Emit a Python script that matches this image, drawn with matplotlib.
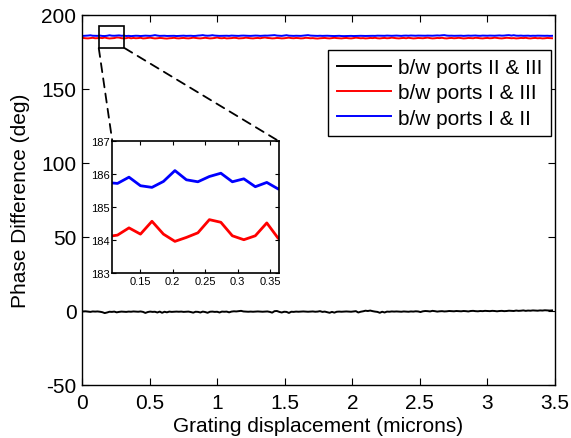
import numpy as np
import matplotlib
matplotlib.use("Agg")
import matplotlib.pyplot as plt
from matplotlib.patches import Rectangle, ConnectionPatch

plt.rcParams["font.family"] = ["Liberation Sans", "DejaVu Sans"]
plt.rcParams["axes.unicode_minus"] = False

# sample positions (microns), uniform grid
displacement = np.round(0.0088 + 0.0177 * np.arange(197), 4)

# b/w ports I & II (deg)
phase_1_2 = [
    185.7, 185.8, 185.9, 186.1, 185.8, 185.75, 185.72,
    185.91, 185.65, 185.6, 185.78, 186.11, 185.83, 185.77, 185.93, 186.03,
    185.77, 185.86, 185.62, 185.75, 185.55,
    185.7, 185.8, 185.75, 185.6, 185.7, 185.85, 185.8, 185.7, 185.9, 186.2,
    185.9, 185.7, 185.75, 185.8, 185.65, 185.7, 185.8, 185.75, 185.6, 185.7,
    185.8, 185.85, 185.7, 185.75, 185.8, 185.65, 185.7, 185.9, 186.0, 186.2,
    185.9, 185.8, 185.9, 186.15, 185.9, 185.8, 185.7, 185.75, 185.85, 185.8,
    185.7, 185.9, 185.8, 185.75, 185.7, 185.85, 185.9, 185.8, 185.75, 185.7,
    185.8, 185.9, 185.85, 185.7, 185.8, 185.9, 185.85, 185.95, 186.0, 186.2,
    185.9, 185.8, 185.7, 185.9, 186.15, 185.85, 185.75, 185.7, 185.8, 185.75,
    185.7, 185.85, 186.0, 186.2, 185.9, 185.8, 185.75, 185.7, 185.8, 185.7,
    185.75, 185.8, 185.7, 185.65, 185.6, 185.7, 185.75, 185.6, 185.55, 185.6,
    185.65, 185.7, 185.6, 185.65, 185.7, 185.75, 185.7, 185.65, 185.7, 185.8,
    185.75, 185.7, 185.85, 185.8, 185.7, 185.75, 185.9, 185.8, 185.75, 185.85,
    185.9, 185.8, 185.7, 185.85, 185.9, 185.8, 185.95, 185.85, 185.8, 185.9,
    185.85, 185.75, 185.8, 185.9, 185.85, 185.8, 185.9, 186.0, 185.9, 186.1,
    186.2, 185.9, 185.8, 185.85, 185.75, 185.8, 185.9, 185.85, 185.7, 185.8,
    185.9, 185.8, 185.85, 185.95, 185.8, 185.75, 185.9, 185.85, 185.8, 185.9,
    185.85, 185.8, 185.9, 186.0, 185.85, 185.9, 186.1, 186.2, 185.9, 186.15,
    185.85, 185.8, 185.9, 185.75, 185.8, 185.85, 185.7, 185.8, 185.75, 185.85,
    185.8, 185.7, 185.75, 185.8, 185.7, 185.75,
]

# b/w ports I & III (deg)
phase_1_3 = [
    184.3, 184.1, 184.0, 184.2, 184.4, 184.1, 184.15,
    184.37, 184.18, 184.57, 184.18, 183.96, 184.08, 184.22, 184.62, 184.54,
    184.13, 184.01, 184.13, 184.52, 184.05,
    184.3, 184.1, 184.2, 184.4, 184.0, 184.1, 184.3, 184.5, 184.2, 184.0,
    184.1, 184.3, 184.2, 184.0, 183.9, 184.1, 184.2, 184.4, 184.1, 184.0,
    184.2, 184.3, 184.1, 184.0, 184.2, 184.5, 184.3, 184.1, 184.0, 184.2,
    184.4, 184.2, 184.0, 184.1, 184.3, 184.6, 184.2, 184.1, 184.3, 184.0,
    184.1, 184.2, 184.4, 184.3, 184.0, 184.1, 184.2, 184.5, 184.3, 184.1,
    184.0, 184.2, 184.3, 184.1, 184.4, 184.6, 184.3, 184.2, 184.0, 184.1,
    184.3, 184.2, 184.0, 184.1, 184.3, 184.5, 184.2, 184.1, 184.3, 184.2,
    184.0, 184.1, 184.4, 184.3, 184.1, 184.2, 184.0, 183.9, 184.1, 184.2,
    184.3, 184.1, 184.0, 184.2, 184.4, 184.2, 184.1, 184.0, 184.2, 184.3,
    184.1, 184.0, 184.2, 184.5, 184.3, 184.1, 184.2, 184.0, 184.1, 184.3,
    184.2, 184.4, 184.1, 184.0, 184.2, 184.3, 184.1, 184.2, 184.5, 184.3,
    184.1, 184.0, 184.2, 184.3, 184.1, 184.4, 184.2, 184.0, 184.1, 184.3,
    184.2, 184.1, 184.3, 184.5, 184.2, 184.0, 184.1, 184.3, 184.2, 184.4,
    184.1, 184.0, 184.2, 184.3, 184.1, 184.2, 184.4, 184.2, 184.0, 184.1,
    184.3, 184.2, 184.1, 184.4, 184.3, 184.1, 184.0, 184.2, 184.3, 184.1,
    184.2, 184.5, 184.3, 184.1, 184.0, 184.2, 184.4, 184.3, 184.1, 184.2,
    184.0, 184.1, 184.3, 184.2, 184.4, 184.1, 184.0, 184.2, 184.3, 184.1,
    184.2, 184.0, 184.1, 184.3, 184.2, 184.1,
]

# b/w ports II & III (deg)
phase_2_3 = [
    -0.5, -0.4, -0.6, -0.8, -0.5, -0.6, -0.5, -0.7, -1.0, -1.6,
    -1.2, -0.7, -0.8, -0.6, -1.1, -0.8, -0.6, -0.7, -0.8, -0.6,
    -0.7, -0.5, -0.6, -0.7, -0.5, -0.8, -1.5, -0.9, -0.6, -0.8,
    -0.7, -1.2, -0.6, -1.4, -0.7, -1.1, -0.6, -0.8, -0.7, -0.6,
    -0.7, -0.6, -0.8, -0.7, -0.6, -0.9, -1.3, -0.7, -0.8, -1.2,
    -0.6, -0.9, -1.4, -0.7, -0.6, -0.8, -0.7, -1.2, -0.6, -0.7,
    -0.6, -1.1, -0.6, -0.4, -0.5, -0.3, -0.1, -0.5, -0.6, -0.7,
    -0.6, -0.7, -0.6, -0.5, -0.6, -0.7, -0.6, -0.5, -0.8, -1.3,
    -0.3, -0.2, -0.8, -1.2, -0.7, -0.8, -1.5, -0.7, -0.8, -0.6,
    -0.7, -0.6, -0.5, -0.6, -0.7, -0.6, -0.5, -0.7, -0.6, -0.3,
    -0.8, -0.6, -1.0, -1.4, -0.8, -1.3, -0.7, -0.6, -0.7, -0.6,
    -0.5, -0.6, -0.7, -0.5, -0.3, -1.2, -0.7, -0.4, 0.0, -0.2,
    0.1, -0.3, -0.6, -0.8, -1.4, -0.7, -1.2, -0.6, -0.7, -0.5,
    -0.6, -0.5, -0.6, -0.7, -0.5, -0.6, -0.7, -0.5, -0.6, -0.4,
    -0.5, -0.9, -0.4, -0.2, -0.3, -0.5, -0.1, -0.3, -0.6, -0.4,
    -0.3, -0.5, -0.4, -0.2, -0.3, -0.4, -0.2, -0.3, -0.4, -0.2,
    -0.3, -0.5, -0.2, -0.1, -0.3, -0.4, -0.2, -0.3, -0.1, -0.2,
    -0.3, -0.1, -0.2, -0.4, -0.2, -0.1, -0.3, -0.2, 0.0, -0.1,
    -0.2, 0.1, -0.1, 0.0, 0.2, -0.1, 0.1, 0.0, 0.2, 0.1,
    0.0, 0.2, 0.1, 0.3, 0.2, 0.1, 0.2,
]

labels = ["b/w ports II & III", "b/w ports I & III", "b/w ports I & II"]
colors = ["#000000", "#ff0000", "#0000ff"]

fig = plt.figure(figsize=(5.71, 4.39), dpi=100)
ax = fig.add_axes([0.1436, 0.1214, 0.8284, 0.8428])

for y, lab, c in zip([phase_2_3, phase_1_3, phase_1_2], labels, colors):
    ax.plot(displacement, y, color=c, lw=1.4, label=lab)

ax.set_xlim(0, 3.5)
ax.set_ylim(-50, 200)
ax.set_xticks(np.arange(0, 3.51, 0.5))
ax.set_xticklabels(["0", "0.5", "1", "1.5", "2", "2.5", "3", "3.5"])
ax.set_yticks(np.arange(-50, 201, 50))
ax.tick_params(direction="in", top=True, right=True, labelsize=15, length=5, width=0.8, pad=4)
ax.tick_params(axis="x", pad=6)
for s in ax.spines.values():
    s.set_linewidth(1.0)
ax.set_xlabel("Grating displacement (microns)", fontsize=15, labelpad=3)
ax.set_ylabel("Phase Difference (deg)", fontsize=15, labelpad=8)

leg = ax.legend(loc="upper right", bbox_to_anchor=(0.9915, 0.905), borderaxespad=0,
                fontsize=15, handlelength=2.6, labelspacing=0.3, fancybox=False,
                framealpha=1, edgecolor="black", borderpad=0.4, handletextpad=0.35)
leg.get_frame().set_linewidth(1.0)

# zoom box in main axes
x0, x1, y0, y1 = 0.124, 0.314, 177.5, 192.2
ax.add_patch(Rectangle((x0, y0), x1 - x0, y1 - y0, fill=False, ec="black", lw=1.2, zorder=5))

# inset
axin = fig.add_axes([0.1967, 0.3759, 0.292, 0.300])
axin.plot(displacement, phase_1_3, color=colors[1], lw=2)
axin.plot(displacement, phase_1_2, color=colors[2], lw=2)
axin.set_xlim(0.107, 0.364)
axin.set_ylim(183, 187)
axin.set_xticks([0.15, 0.2, 0.25, 0.3, 0.35])
axin.set_xticklabels(["0.15", "0.2", "0.25", "0.3", "0.35"])
axin.set_yticks([183, 184, 185, 186, 187])
axin.tick_params(direction="in", top=True, right=True, labelsize=8, length=3, width=0.8, pad=2)
for s in axin.spines.values():
    s.set_linewidth(1.2)

for (xa, xb) in [((x0, y0), (0, 1)), ((x1, y0), (1, 1))]:
    con = ConnectionPatch(xyA=xa, coordsA=ax.transData, xyB=xb, coordsB=axin.transAxes,
                          color="black", lw=1.3, linestyle=(0, (5, 3.5)))
    fig.add_artist(con)

fig.savefig("out.png", dpi=100)
